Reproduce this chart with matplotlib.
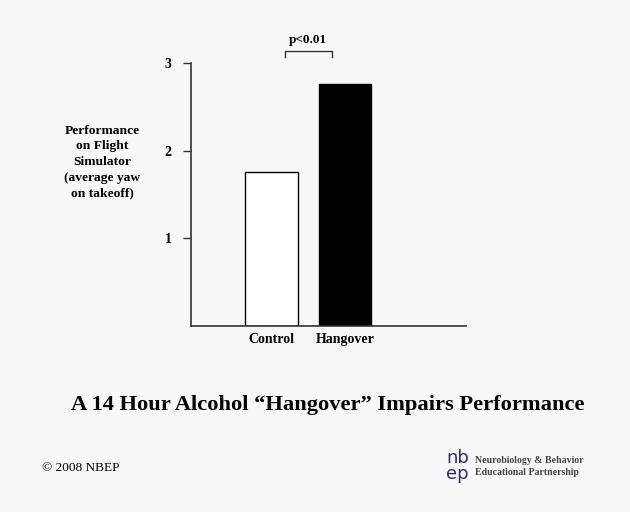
import matplotlib.pyplot as plt

# data
categories = ["Control", "Hangover"]
values = [1.76, 2.76]
bar_colors = ["white", "black"]
y_ticks = [1, 2, 3]
sig_label = "p<0.01"

plt.rcParams['font.family'] = ['Liberation Serif', 'DejaVu Serif']
bg = "#f8f8f8"

fig = plt.figure(figsize=(6.3, 5.12), dpi=100, facecolor=bg)
ax = fig.add_axes([191 / 630, 1 - 326 / 512, 275 / 630, 263 / 512])
ax.set_facecolor(bg)

x = list(range(len(categories)))
ax.bar(x, values, width=0.72, color=bar_colors, edgecolor="black", linewidth=1)

ax.set_xlim(-1.095, 2.646)
ax.set_ylim(0, 3)
ax.set_yticks(y_ticks)
ax.set_yticklabels([str(t) for t in y_ticks], fontsize=10, fontweight="bold")
ax.set_xticks(x)
ax.set_xticklabels(categories, fontsize=10, fontweight="bold")
ax.tick_params(axis="x", length=0, pad=5)
ax.tick_params(axis="y", length=6, width=1, pad=8, color="#333333")
for s in ["top", "right"]:
    ax.spines[s].set_visible(False)
for s in ["left", "bottom"]:
    ax.spines[s].set_color("#333333")
    ax.spines[s].set_linewidth(1.2)

# significance bracket
ax.plot([0.18, 0.18, 0.82, 0.82], [3.065, 3.135, 3.135, 3.065], color="#333333",
        linewidth=1, clip_on=False)
ax.text(0.5, 3.19, sig_label, ha="center", va="bottom", fontsize=9.5, fontweight="bold")

fig.text(102 / 630, 1 - 162 / 512,
         "Performance\non Flight\nSimulator\n(average yaw\non takeoff)",
         ha="center", va="center", fontsize=9.7, fontweight="bold", linespacing=1.4)

fig.text(328 / 630, 1 - 405 / 512,
         "A 14 Hour Alcohol \u201cHangover\u201d Impairs Performance",
         ha="center", va="center", fontsize=16.2, fontweight="bold")

fig.text(42 / 630, 1 - 468 / 512, "\u00a9 2008 NBEP", ha="left", va="center", fontsize=9.6)

# logo
logo_c = "#2e2a72"
fig.text(446 / 630, 1 - 466 / 512, "nb\nep", ha="left", va="center", fontsize=13,
         color=logo_c, family="DejaVu Sans", linespacing=0.85)
fig.text(475 / 630, 1 - 466.5 / 512, "Neurobiology & Behavior\nEducational Partnership",
         ha="left", va="center", fontsize=7.1, fontweight="bold", color="#444444",
         linespacing=1.55)

fig.savefig("out.png", dpi=100, facecolor=bg)
